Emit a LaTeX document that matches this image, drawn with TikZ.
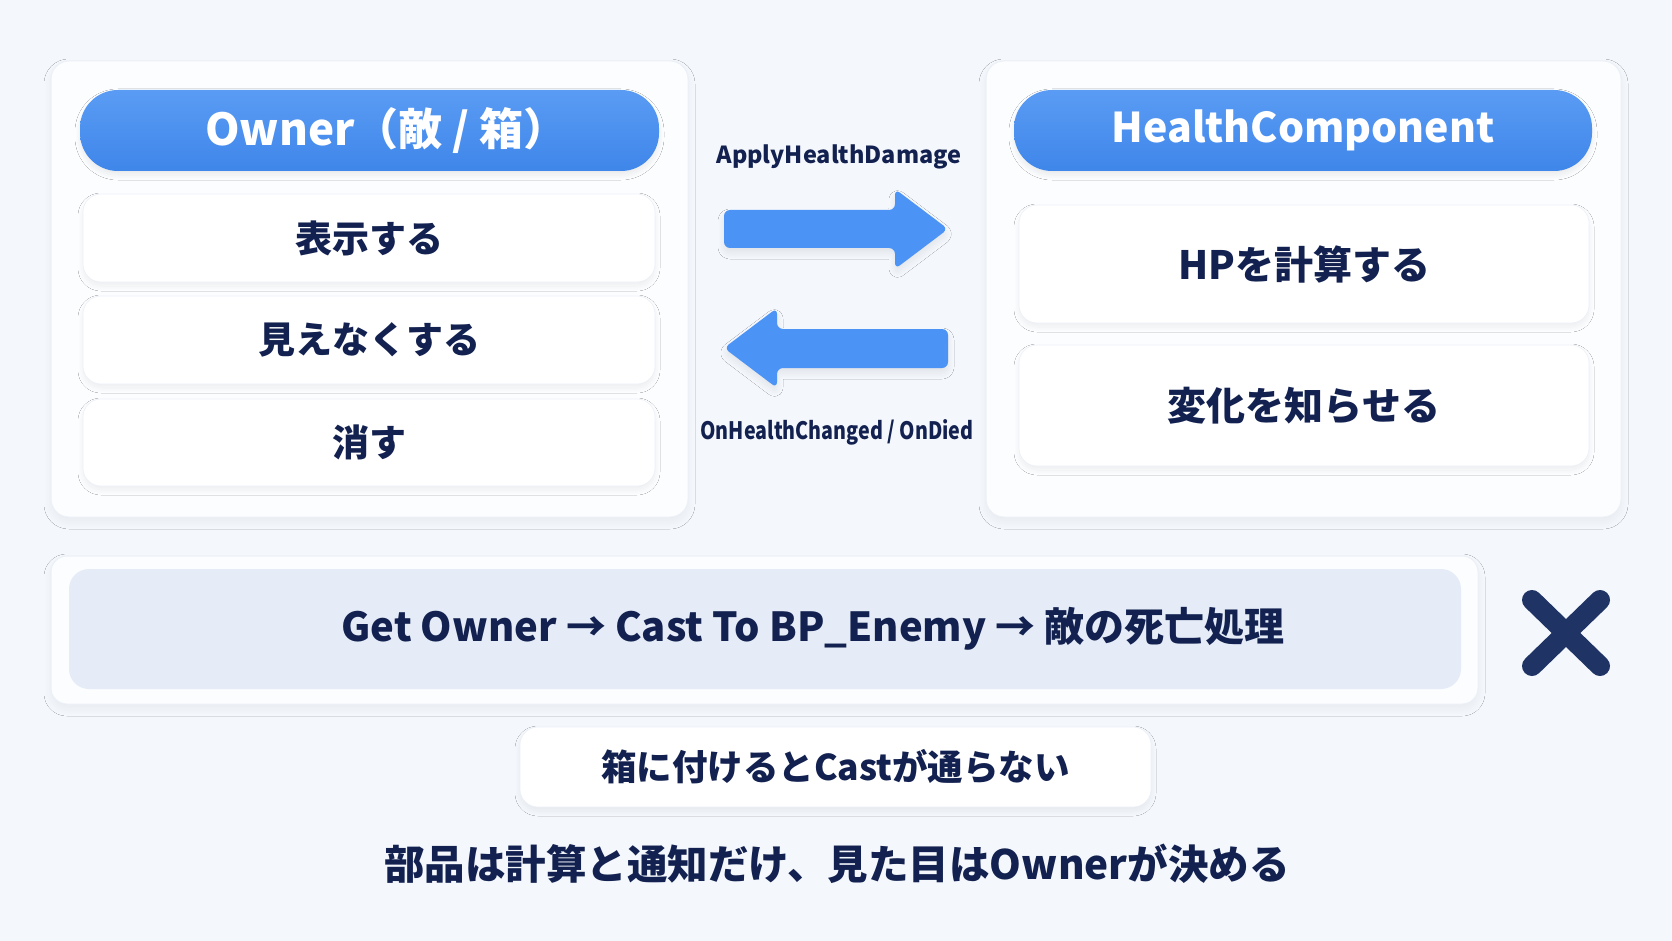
\documentclass[tikz,border=0pt]{standalone}
\usepackage{fontspec}
\usepackage{graphicx}
\setmainfont{Noto Sans CJK JP}
\usetikzlibrary{shadows,shadows.blur}
\definecolor{bgc}{HTML}{F4F7FC}
\definecolor{panelc}{HTML}{FCFDFF}
\definecolor{panelb}{HTML}{ECF0F7}
\definecolor{headtop}{HTML}{5A9CF4}
\definecolor{headbot}{HTML}{3F86EA}
\definecolor{navy}{HTML}{12214F}
\definecolor{innerc}{HTML}{E5ECF7}
\definecolor{arrowc}{HTML}{4B94F5}
\definecolor{xc}{HTML}{1F3465}
\tikzset{
  panel/.style={draw=panelb, line width=1pt, fill=panelc, rounded corners=18pt,
    blur shadow={shadow blur steps=12, shadow xshift=0pt, shadow yshift=-5pt, shadow opacity=5, shadow blur radius=7pt}},
  header/.style={rounded corners=38pt, top color=headtop, bottom color=headbot,
    text=white, font=\bfseries\fontsize{41}{44}\selectfont,
    blur shadow={shadow blur steps=12, shadow xshift=0pt, shadow yshift=-4pt, shadow opacity=8, shadow blur radius=5pt}},
  itembox/.style={fill=white, draw=panelb, line width=0.6pt, rounded corners=18pt, text=navy,
    font=\bfseries\fontsize{37}{40}\selectfont,
    blur shadow={shadow blur steps=12, shadow xshift=0pt, shadow yshift=-4pt, shadow opacity=6, shadow blur radius=5pt}},
  lbl/.style={text=navy, font=\bfseries\fontsize{23.5}{28}\selectfont},
  fatarrow/.style={fill=arrowc, rounded corners=6pt,
    blur shadow={shadow blur steps=12, shadow xshift=0pt, shadow yshift=-5pt, shadow opacity=8, shadow blur radius=6pt}},
}
\begin{document}
\begin{tikzpicture}[x=1pt,y=-1pt]
\fill[bgc] (0,0) rectangle (1672,941);
\useasboundingbox (0,0) rectangle (1672,941);

% left panel
\path[panel] (51,61) rectangle (688,517);
\node[header, minimum width=579pt, minimum height=81pt, font=\bfseries\fontsize{44}{48}\selectfont] (owner) at (369.5,130.5) {\hspace*{34pt}Owner（敵 / 箱）};
\node[itembox, minimum width=572pt, minimum height=88pt] (show) at (369,238) {表示する};
\node[itembox, minimum width=572pt, minimum height=88pt] (hide) at (369,340) {見えなくする};
\node[itembox, minimum width=572pt, minimum height=87pt] (erase) at (369,442.5) {消す};

% right panel
\path[panel] (986,61) rectangle (1621,517);
\node[header, minimum width=578pt, minimum height=81pt] (hc) at (1303,130.5) {HealthComponent};
\node[itembox, minimum width=570pt, minimum height=118pt, font=\bfseries\fontsize{39}{42}\selectfont] (hp) at (1304,264) {HPを計算する};
\node[itembox, minimum width=570pt, minimum height=121pt, font=\bfseries\fontsize{39}{42}\selectfont] (notify) at (1304,405.5) {変化を知らせる};

% arrows
\node[lbl] (apply) at (839,157) {ApplyHealthDamage};
\path[fatarrow] (724,210) -- (895,210) -- (895,189) -- (948,229) -- (895,269) -- (895,248) -- (724,248) -- cycle;
\path[fatarrow] (948,329) -- (777,329) -- (777,308) -- (724,348) -- (777,388) -- (777,368) -- (948,368) -- cycle;
\node[lbl, font=\bfseries\fontsize{24}{28}\selectfont] (onh) at (837,432) {\scalebox{0.82}[1]{OnHealthChanged / OnDied}};

% bottom box
\path[panel, rounded corners=16pt] (51,556) rectangle (1478,704);
\node[fill=innerc, rounded corners=20pt, minimum width=1392pt, minimum height=120pt, text=navy,
  font=\bfseries\fontsize{40}{44}\selectfont] (cast) at (765,629)
  {\hspace*{96pt}Get Owner → Cast To BP\_Enemy → 敵の死亡処理};

% X mark
\coordinate (xa) at (1532,600);
\coordinate (xb) at (1600,666);
\coordinate (xc) at (1600,600);
\coordinate (xd) at (1532,666);
\draw[xc, line width=20pt, line cap=round] (xa) -- (xb);
\draw[xc, line width=20pt, line cap=round] (xc) -- (xd);

% note
\node[itembox, minimum width=631pt, minimum height=80pt, font=\bfseries\fontsize{35.5}{38}\selectfont] (note) at (835.5,767) {箱に付けるとCastが通らない};

\node[text=navy, font=\bfseries\fontsize{40.5}{44}\selectfont] (summary) at (837,864) {部品は計算と通知だけ、見た目はOwnerが決める};
\end{tikzpicture}
\end{document}
